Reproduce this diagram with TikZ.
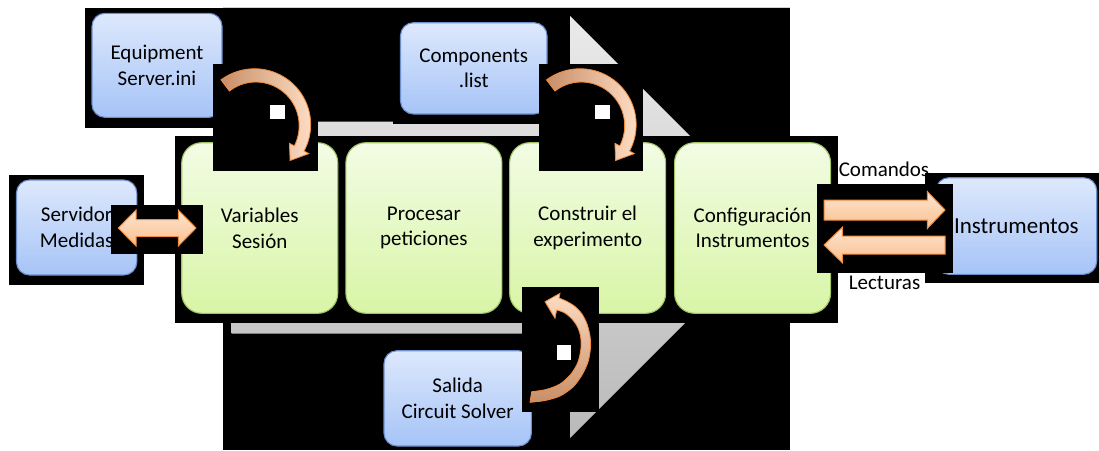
\documentclass[tikz,border=0pt]{standalone}
\usepackage{fontspec}
\setmainfont{Carlito}
\newcommand\fsz{\fontsize{21}{25.6}\selectfont}
\newcommand\fszb{\fontsize{23}{28}\selectfont}
\definecolor{bluet}{RGB}{221,232,252}
\definecolor{blueb}{RGB}{166,196,247}
\definecolor{bluel}{RGB}{108,143,204}
\definecolor{greent}{RGB}{242,252,228}
\definecolor{greenb}{RGB}{216,245,166}
\definecolor{greenl}{RGB}{160,195,100}
\definecolor{peacht}{RGB}{253,228,208}
\definecolor{peachb}{RGB}{250,192,143}
\definecolor{orl}{RGB}{240,138,60}
\definecolor{cdark}{RGB}{200,142,104}
\definecolor{clight}{RGB}{253,220,194}
\definecolor{grayt}{RGB}{234,234,234}
\definecolor{grayb}{RGB}{186,186,186}
\tikzset{
  blk/.style={fill=black},
  bluebox/.style={draw=bluel, line width=1.1pt, rounded corners=13pt, top color=bluet, bottom color=blueb, align=center, font=\fsz, inner sep=0pt},
  greenbox/.style={draw=greenl, line width=1.1pt, rounded corners=20pt, top color=greent, bottom color=greenb, align=center, font=\fsz, inner sep=0pt, minimum width=156pt, minimum height=170.6pt},
  peach/.style={draw=orl, line width=1pt, top color=peacht, bottom color=peachb},
  curv/.style={draw=orl, line width=0.8pt},
  wsq/.style={fill=white},
  lbl/.style={font=\fsz, anchor=base, inner sep=0pt}
}
\newcommand\curvarrow[1]{%
  \path[curv, left color=cdark, right color=clight]
    plot[domain=-127:28, samples=60, variable=\t] ({#1+(56.5-(\t+127)/155)*cos(\t)},{125+(56.5-(\t+127)/155)*sin(\t)})
    -- ({#1+53.9},153.6) -- ({#1+35.1},160.5) -- ({#1+34.4},143.3)
    -- plot[domain=28:-127, samples=60, variable=\t] ({#1+(42.5+2*(\t+127)/155)*cos(\t)},{125+(42.5+2*(\t+127)/155)*sin(\t)})
    -- cycle;}
\begin{document}
\begin{tikzpicture}[x=1pt,y=-1pt]
\useasboundingbox (0,0) rectangle (1099,450);
\fill[white] (0,0) rectangle (1099,450);
% big background of the process arrow
\fill[blk] (223,8) rectangle (790,450);
\fill[gray!35] (223,7) rectangle (790,8);
\path[top color=grayt, bottom color=grayb] (231.5,121.7) -- (570,121.7) -- (570,16) -- (781,227) -- (570,438) -- (570,333.7) -- (231.5,333.7) -- cycle;
% Equipment
\fill[blk] (85,8) rectangle (229,128);
\node[bluebox, minimum width=130pt, minimum height=104pt] (equip) at (157,65.3) {Equipment\\Server.ini};
% Components
\fill[blk] (393,16) rectangle (554,124);
\node[bluebox, minimum width=146.5pt, minimum height=91.3pt] (comp) at (473.75,68.35) {Components\\.list};
% green process boxes
\fill[blk] (174.5,136) rectangle (837.6,322.7);
\node[greenbox] (g1) at (259.75,228) {Variables\\Sesión};
\node[greenbox] (g2) at (423.9,228) {Procesar\\peticiones};
\node[greenbox] (g3) at (587.65,228) {Construir el\\experimento};
\node[greenbox] (g4) at (752.55,228) {Configuración\\Instrumentos};
% curved arrows from the files
\fill[blk] (212.7,64.3) rectangle (318.3,171);
\curvarrow{255}
\fill[wsq] (270,105) rectangle (285,119.3);
\fill[blk] (539,64.3) rectangle (643.3,171);
\curvarrow{580.5}
\fill[wsq] (595,105) rectangle (610,119);
% Servidor Medidas
\fill[blk] (8.8,175) rectangle (143.8,285);
\node[bluebox, minimum width=120.3pt, minimum height=95pt] (serv) at (76.65,227.5) {Servidor\\Medidas};
\fill[blk] (111,205) rectangle (202.7,254.3);
\path[peach] (118.3,228) -- (136,210) -- (136,219.5) -- (178.3,219.5) -- (178.3,210) -- (196,228) -- (178.3,246) -- (178.3,236.5) -- (136,236.5) -- (136,246) -- cycle;
% Salida Circuit Solver
\node[bluebox, minimum width=147.4pt, minimum height=95.3pt] (sal) at (457.7,398.35) {Salida\\Circuit Solver};
\fill[blk] (521.7,287.3) rectangle (599,411.7);
\path[curv, bottom color=cdark, top color=clight]
  plot[smooth] coordinates {(530,402.3) (545,400.5) (560,396) (573,387) (582,375) (588,362) (590.5,348) (590,336) (587,324) (582,314) (575,306.5) (567,301.5) (559,298)}
  -- (560,293.3) -- (545,301.7) -- (555,318.3)
  -- plot[smooth] coordinates {(556.6,310) (564,312.5) (571,318) (577,326) (580.5,336) (581,348) (578,362) (571,374) (560,384) (546,389.5) (531.7,391.7)}
  -- cycle;
\fill[wsq] (556.7,345.3) rectangle (571,360);
% labels and instruments
\node[lbl] (com) at (884,176.7) {Comandos};
\node[lbl] (lec) at (884.5,289.3) {Lecturas};
\fill[blk] (925,173.3) rectangle (1099,283.3);
\node[bluebox, font=\fszb, minimum width=160.7pt, minimum height=96.6pt] (inst) at (1016.35,226) {Instrumentos};
\fill[blk] (817.3,184.3) rectangle (953.3,273.3);
\path[peach] (824,200) -- (927.3,200) -- (927.3,191.5) -- (945,210) -- (927.3,228.5) -- (927.3,220) -- (824,220) -- cycle;
\path[peach] (824,245) -- (842.3,227.3) -- (842.3,236) -- (945,236) -- (945,254) -- (842.3,254) -- (842.3,262.7) -- cycle;
\end{tikzpicture}
\end{document}
